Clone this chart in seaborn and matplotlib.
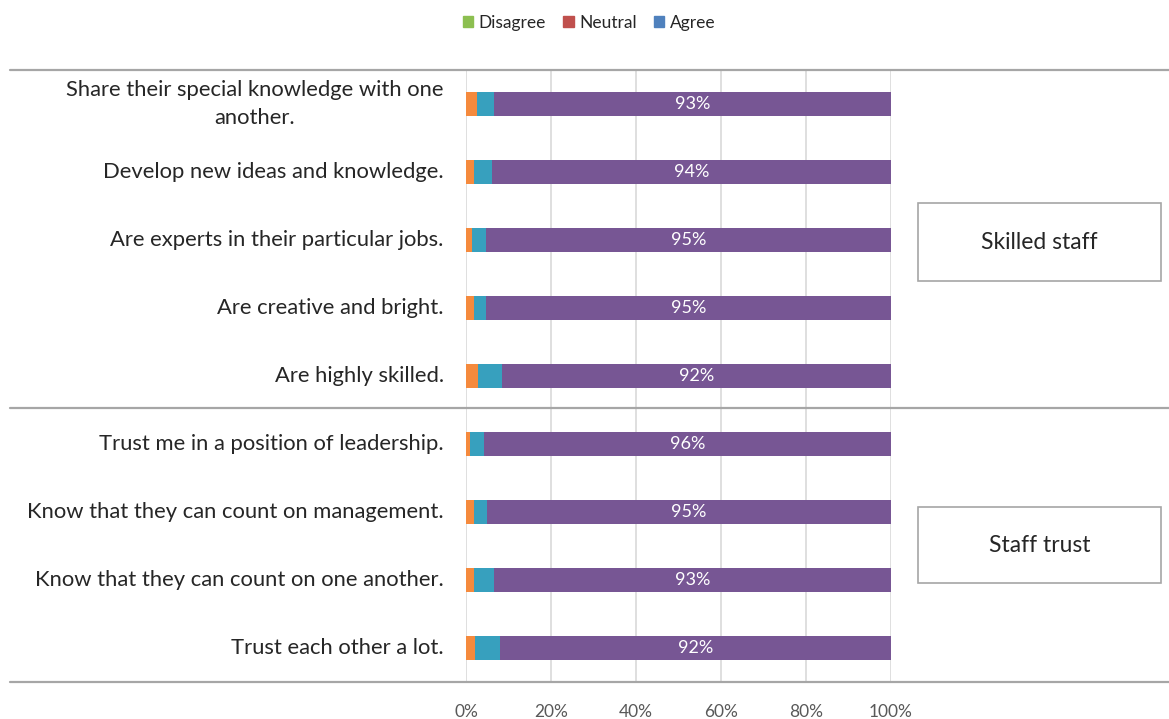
import pandas as pd
import numpy as np
import matplotlib.pyplot as plt
import seaborn as sns
from matplotlib.lines import Line2D
from matplotlib.patches import Patch, Rectangle

# Statements, top to bottom
statements = [
    "Share their special knowledge with one\nanother.",
    "Develop new ideas and knowledge.",
    "Are experts in their particular jobs.",
    "Are creative and bright.",
    "Are highly skilled.",
    "Trust me in a position of leadership.",
    "Know that they can count on management.",
    "Know that they can count on one another.",
    "Trust each other a lot.",
]
disagree = [2.5, 1.8, 1.3, 1.8, 2.9, 1.0, 1.8, 1.8, 2.2]
neutral = [4.2, 4.3, 3.4, 2.9, 5.6, 3.3, 3.1, 4.9, 5.7]
agree = [93.3, 93.9, 95.3, 95.3, 91.5, 95.7, 95.1, 93.3, 92.1]
agree_labels = ["93%", "94%", "95%", "95%", "92%", "96%", "95%", "93%", "92%"]
groups = ["Skilled staff", "Staff trust"]

df = pd.DataFrame({"statement": statements, "Disagree": disagree,
                   "Neutral": neutral, "Agree": agree})
df["c1"] = df["Disagree"]
df["c2"] = df["c1"] + df["Neutral"]
df["c3"] = df["c2"] + df["Agree"]

sns.set_style("white")
plt.rcParams["font.family"] = ["Lato", "DejaVu Sans"]

W, H = 1169, 719
fig = plt.figure(figsize=(W / 100, H / 100), dpi=100)
ax = fig.add_axes([466 / W, 1 - 682 / H, 425 / W, (682 - 70) / H])

bar_w = 0.35
sns.barplot(data=df, y="statement", x="c3", color="#775694", width=bar_w,
            saturation=1, linewidth=0, ax=ax, zorder=3)
sns.barplot(data=df, y="statement", x="c2", color="#37A0BE", width=bar_w,
            saturation=1, linewidth=0, ax=ax, zorder=3)
sns.barplot(data=df, y="statement", x="c1", color="#F58A3D", width=bar_w,
            saturation=1, linewidth=0, ax=ax, zorder=3)

for i, row in df.iterrows():
    ax.text((row["c2"] + row["c3"]) / 2, i, agree_labels[i], color="white",
            ha="center", va="center", fontsize=13, zorder=4)

ax.set_xlim(0, 100)
ax.set_ylim(8.5, -0.5)
ax.set_xticks(np.arange(0, 101, 20))
ax.set_xticklabels([f"{t}%" for t in range(0, 101, 20)], color="#595959", fontsize=12.5)
ax.grid(axis="x", color="#D9D9D9", lw=1.2, zorder=0)
ax.set_xlabel("")
ax.set_ylabel("")
for s in ax.spines.values():
    s.set_visible(False)
ax.tick_params(axis="x", length=0, pad=16)
ax.tick_params(axis="y", length=0, pad=16)
for lab in ax.get_yticklabels():
    lab.set_fontsize(15.8)
    lab.set_color("#262626")
    lab.set_multialignment("center")
    lab.set_linespacing(1.45)
    lab.set_verticalalignment("center")

# group separator lines across the figure
for yp in [70, 408, 682]:
    fig.add_artist(Line2D([10 / W, 1], [1 - yp / H] * 2, color="#A6A6A6", lw=1.6))

# group boxes
for name, (y0, y1) in zip(groups, [(203, 281), (507, 583)]):
    fig.add_artist(Rectangle((918 / W, 1 - y1 / H), (1161 - 918) / W, (y1 - y0) / H,
                             fill=False, edgecolor="#A6A6A6", lw=1.2))
    fig.text((918 + 1161) / 2 / W, 1 - (y0 + y1) / 2 / H, name, ha="center",
             va="center", fontsize=16.5, color="#262626")

handles = [Patch(color="#8CBF50", label="Disagree"),
           Patch(color="#C0504D", label="Neutral"),
           Patch(color="#4F81BD", label="Agree")]
fig.legend(handles=handles, loc="center", bbox_to_anchor=(589 / W, 1 - 23 / H), ncol=3,
           frameon=False, fontsize=12.5, handlelength=0.6, handleheight=0.6,
           handletextpad=0.3, columnspacing=1.0, labelcolor="#262626")

fig.savefig("out.png", dpi=100)
